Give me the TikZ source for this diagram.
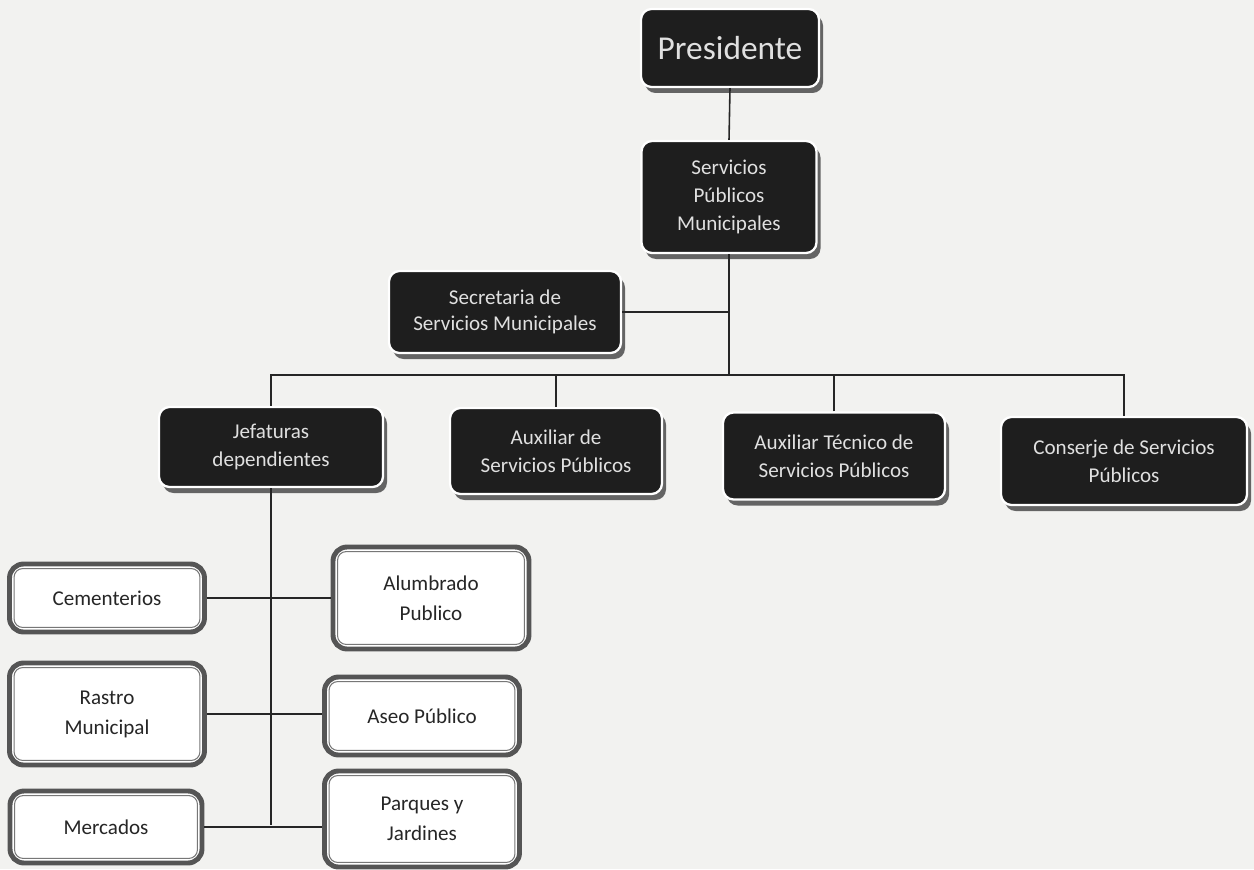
\documentclass[tikz,border=0pt]{standalone}
\usepackage{fontspec}
\setmainfont{Carlito}
\usetikzlibrary{shadows}
\definecolor{paper}{RGB}{242,242,240}
\definecolor{boxfill}{RGB}{30,30,30}
\definecolor{shadowc}{RGB}{100,100,100}
\definecolor{frame}{RGB}{85,85,85}
\begin{document}
\begin{tikzpicture}[x=0.02cm,y=-0.02cm,
  sz/.style 2 args={minimum width=#1*0.02cm, minimum height=#2*0.02cm},
  dark/.style={rounded corners=6pt, fill=boxfill, draw=white, line width=1.3pt,
    text=white!88!black, align=center, font=\fontsize{12}{16}\selectfont, inner sep=2pt,
    general shadow={fill=shadowc, shadow xshift=0.08cm, shadow yshift=-0.12cm}},
  light/.style={rounded corners=8pt, fill=white, draw=frame, line width=2.8pt,
    align=center, font=\fontsize{12}{17}\selectfont, text=black!85, inner sep=2pt},
  innerframe/.style={draw=frame!80, line width=0.6pt, rounded corners=5pt},
  conn/.style={draw=black!85, line width=0.9pt}]
\fill[paper] (0,0) rectangle (1254,869);

% top
\node[dark, sz={178}{78}, font=\fontsize{19}{22}\selectfont] (pres) at (730,48) {Presidente};
\node[dark, sz={175}{112}] (spm) at (729,197) {Servicios\\Públicos\\Municipales};
\node[dark, sz={232}{82}, font=\fontsize{12}{15}\selectfont] (sec) at (505,312) {Secretaria de\\Servicios Municipales};
\coordinate (bus) at (729,375);

\node[dark, sz={224}{80}] (jef) at (271,447) {Jefaturas\\dependientes};
\node[dark, sz={212}{86}] (auxsp) at (556,451) {Auxiliar de\\Servicios Públicos};
\node[dark, sz={222}{87}] (auxt) at (834,456) {Auxiliar Técnico de\\Servicios Públicos};
\node[dark, sz={246}{88}] (cons) at (1124,461) {Conserje de Servicios\\Públicos};

% bottom
\node[light, sz={195}{68}] (cem) at (107,598) {Cementerios};
\node[light, sz={196}{102}] (alu) at (431,598) {Alumbrado\\Publico};
\node[light, sz={195}{102}] (ras) at (107,714) {Rastro\\Municipal};
\node[light, sz={195}{78}] (ase) at (422,716) {Aseo Público};
\node[light, sz={192}{72}] (mer) at (106,827) {Mercados};
\node[light, sz={195}{96}] (par) at (422,819) {Parques y\\Jardines};
\foreach \n in {cem,alu,ras,ase,mer,par}
  \draw[innerframe] ([shift={(7,7)}]\n.north west) rectangle ([shift={(-7,-7)}]\n.south east);

\coordinate (jbot) at (271,825);

% connectors
\draw[conn] (pres.south) -- (spm.north);
\draw[conn] (spm.south) -- (bus);
\draw[conn] (sec.east) -- (sec.east -| spm.south);
\draw[conn] (jef.north) |- (bus);
\draw[conn] (auxsp.north) |- (bus);
\draw[conn] (auxt.north) |- (bus);
\draw[conn] (cons.north) |- (bus);
\draw[conn] (jef.south) -- (jbot);
\draw[conn] (cem.east) -- (alu.west);
\draw[conn] (ras.east) -- (ase.west |- ras.east);
\draw[conn] (mer.east) -- (par.west |- mer.east);
\end{tikzpicture}
\end{document}
